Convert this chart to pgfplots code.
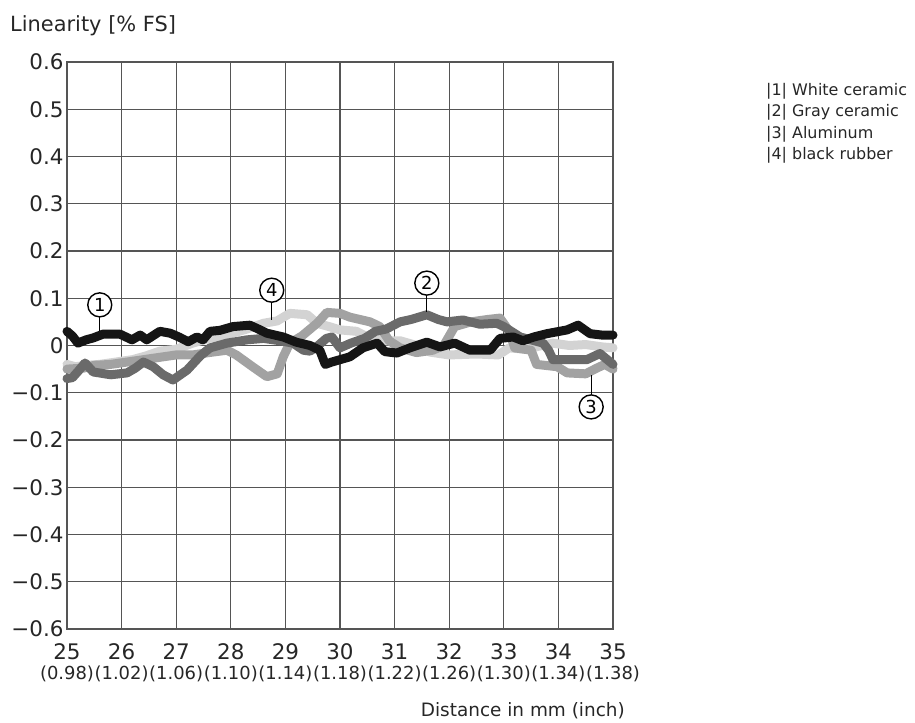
\documentclass[border=0pt]{standalone}
\usepackage{fontspec}
\setmainfont{DejaVu Sans}
\usepackage{pgfplots}
\pgfplotsset{compat=1.18}
\definecolor{gridc}{HTML}{555555}
\definecolor{c1}{HTML}{151515}
\definecolor{c2}{HTML}{6A6A6A}
\definecolor{c3}{HTML}{A2A2A2}
\definecolor{c4}{HTML}{D3D3D3}

\begin{document}
\begin{tikzpicture}[x=1bp,y=1bp]
\begin{axis}[
    scale only axis,
    width=546bp, height=567bp,
    xmin=25, xmax=35,
    ymin=-0.6, ymax=0.6,
    xtick={25,26,27,28,29,30,31,32,33,34,35},
    xticklabels={25,26,27,28,29,30,31,32,33,34,35},
    ytick={-0.6,-0.5,-0.4,-0.3,-0.2,-0.1,0,0.1,0.2,0.3,0.4,0.5,0.6},
    yticklabels={−0.6,−0.5,−0.4,−0.3,−0.2,−0.1,0,0.1,0.2,0.3,0.4,0.5,0.6},
    grid=major,
    major grid style={gridc, line width=1.3bp},
    axis line style={gridc, line width=1.5bp},
    major tick length=0pt,
    tick label style={font=\fontsize{21.5}{24}\selectfont, text=black!85},
    xticklabel style={inner sep=1bp},
    xticklabel shift=13bp,
    extra x ticks={25,26,27,28,29,30,31,32,33,34,35},
    extra x tick labels={(0.98),(1.02),(1.06),(1.10),(1.14),(1.18),(1.22),(1.26),(1.30),(1.34),(1.38)},
    extra x tick style={grid=none, xticklabel style={font=\fontsize{18}{20}\selectfont, yshift=-23bp}},
    every axis plot/.append style={line width=9bp, line join=round, line cap=round},
    clip=false,
]
% 4 black rubber
\addplot[c4] coordinates {
(25.00,-0.040) (25.15,-0.045) (25.35,-0.042) (25.60,-0.040) (25.90,-0.035)
(26.20,-0.030) (26.45,-0.022) (26.70,-0.012) (27.00,-0.008) (27.30,0.005)
(27.60,0.015) (28.00,0.025) (28.30,0.035) (28.60,0.047) (28.85,0.052)
(29.08,0.068) (29.40,0.065) (29.58,0.047) (29.80,0.040) (30.00,0.033)
(30.30,0.030) (30.50,0.018) (30.80,0.010) (31.10,0.010) (31.40,0.000)
(31.65,-0.014) (32.00,-0.020) (32.50,-0.018) (32.90,-0.020) (33.10,-0.005)
(33.40,-0.008) (33.70,0.000) (33.90,0.005) (34.20,0.000) (34.50,0.002)
(34.80,-0.003) (35.00,-0.005)
};
% 3 aluminum
\addplot[c3] coordinates {
(25.00,-0.050) (25.30,-0.048) (25.50,-0.042) (25.80,-0.040) (26.10,-0.035)
(26.40,-0.030) (26.70,-0.025) (27.00,-0.020) (27.30,-0.020) (27.60,-0.015)
(27.93,-0.010) (28.10,-0.020) (28.40,-0.045) (28.66,-0.066) (28.85,-0.060)
(28.96,-0.024) (29.08,0.005) (29.30,0.020) (29.58,0.047) (29.76,0.070)
(30.00,0.068) (30.18,0.060) (30.55,0.050) (30.73,0.040) (30.90,0.010)
(31.10,-0.005) (31.40,-0.015) (31.70,-0.010) (31.90,0.000) (32.10,0.040)
(32.40,0.050) (32.70,0.055) (32.93,0.058) (33.10,0.030) (33.20,-0.005)
(33.50,-0.010) (33.60,-0.040) (33.98,-0.045) (34.16,-0.058) (34.50,-0.060)
(34.70,-0.048) (34.85,-0.040) (35.00,-0.050)
};
% 2 gray ceramic
\addplot[c2] coordinates {
(25.00,-0.070) (25.10,-0.068) (25.20,-0.055) (25.33,-0.037) (25.48,-0.056)
(25.80,-0.062) (26.10,-0.058) (26.25,-0.048) (26.40,-0.035) (26.58,-0.045)
(26.76,-0.062) (26.94,-0.073) (27.20,-0.052) (27.44,-0.022) (27.62,-0.005)
(27.93,0.005) (28.30,0.012) (28.60,0.015) (28.90,0.010) (29.14,0.005)
(29.33,-0.010) (29.45,-0.012) (29.60,0.000) (29.75,0.015) (29.85,0.018)
(30.00,-0.005) (30.20,0.005) (30.45,0.015) (30.65,0.030) (30.85,0.035)
(31.10,0.050) (31.30,0.055) (31.59,0.065) (31.80,0.055) (31.96,0.050)
(32.25,0.054) (32.56,0.045) (32.87,0.047) (33.00,0.040) (33.30,0.018)
(33.72,0.005) (33.82,-0.010) (33.90,-0.030) (34.20,-0.030) (34.52,-0.030)
(34.76,-0.017) (35.00,-0.040)
};
% 1 white ceramic
\addplot[c1] coordinates {
(25.00,0.030) (25.10,0.020) (25.20,0.005) (25.35,0.012) (25.48,0.016)
(25.66,0.024) (25.97,0.024) (26.19,0.012) (26.34,0.022) (26.46,0.012)
(26.70,0.030) (26.89,0.026) (27.05,0.018) (27.22,0.008) (27.38,0.018)
(27.49,0.012) (27.62,0.030) (27.80,0.032) (28.04,0.040) (28.35,0.043)
(28.50,0.035) (28.66,0.026) (28.96,0.018) (29.20,0.007) (29.45,0.000)
(29.63,-0.010) (29.73,-0.040) (29.85,-0.035) (30.00,-0.030) (30.18,-0.024)
(30.42,-0.005) (30.68,0.005) (30.82,-0.013) (31.04,-0.016) (31.28,-0.005)
(31.59,0.007) (31.83,-0.003) (32.10,0.005) (32.38,-0.010) (32.75,-0.010)
(32.93,0.015) (33.17,0.018) (33.35,0.010) (33.55,0.018) (33.79,0.025)
(34.16,0.033) (34.36,0.043) (34.58,0.025) (34.80,0.022) (35.00,0.022)
};
% callouts
\draw[black, line width=1.3bp] (axis cs:25.6,0.063) -- (axis cs:25.6,0.030);
\draw[black, line width=1.3bp] (axis cs:28.75,0.092) -- (axis cs:28.75,0.055);
\draw[black, line width=1.3bp] (axis cs:31.59,0.107) -- (axis cs:31.59,0.070);
\draw[black, line width=1.3bp] (axis cs:34.6,-0.105) -- (axis cs:34.6,-0.062);
\tikzset{callout/.style={circle, draw=black, line width=1.4bp, fill=white,
    minimum size=24bp, inner sep=0pt, font=\fontsize{18}{18}\selectfont}}
\node[callout] at (axis cs:25.6,0.086) {1};
\node[callout] at (axis cs:28.75,0.117) {4};
\node[callout] at (axis cs:31.59,0.132) {2};
\node[callout] at (axis cs:34.6,-0.130) {3};
\end{axis}
\node[anchor=base west, inner sep=0pt, font=\fontsize{21}{24}\selectfont, text=black!85] at (-57,597) {Linearity [\% FS]};
\node[anchor=base east, inner sep=0pt, font=\fontsize{18.5}{22}\selectfont, text=black!85] at (558,-88) {Distance in mm (inch)};
\node[anchor=north west, inner sep=0pt, align=left, font=\fontsize{16}{21.5}\selectfont, text=black!85] at (699,546)
  {|1| White ceramic\\|2| Gray ceramic\\|3| Aluminum\\|4| black rubber};
\pgfresetboundingbox
\path (-67,-94) rectangle (848,629);
\end{tikzpicture}
\end{document}
